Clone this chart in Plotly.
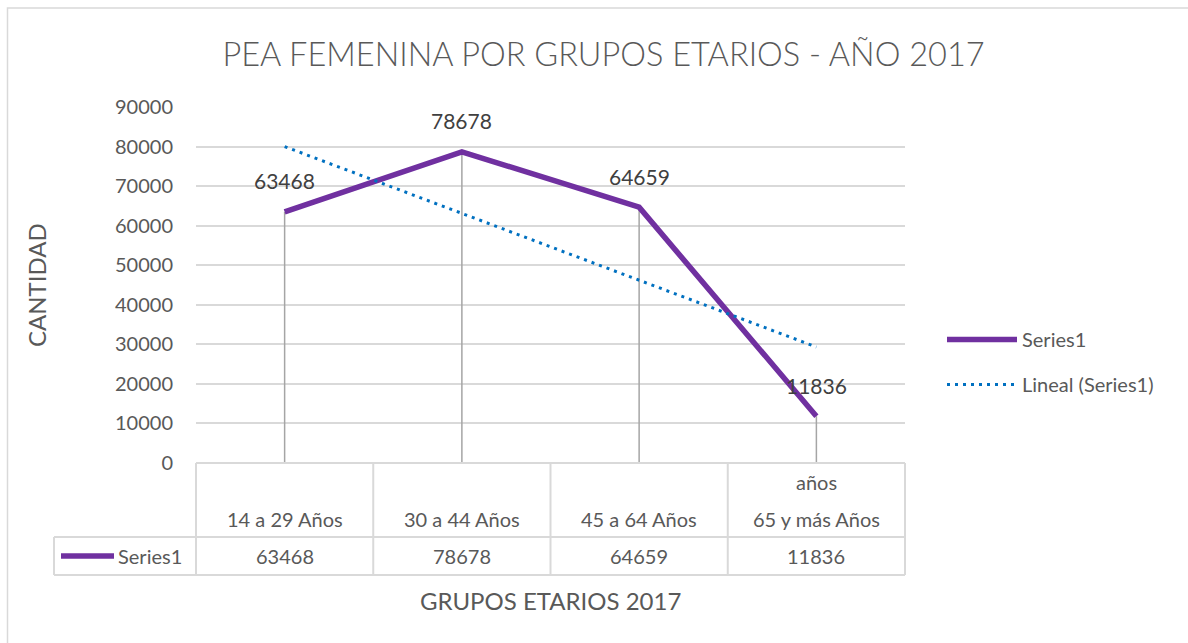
import numpy as np
import plotly.graph_objects as go

# ---------------- data ----------------
categories = ["14 a 29 Años", "30 a 44 Años", "45 a 64 Años", "años<br>65 y más Años"]
values = [63468, 78678, 64659, 11836]
series_name = "Series1"
trend_name = "Lineal (Series1)"
y_ticks = [0, 10000, 20000, 30000, 40000, 50000, 60000, 70000, 80000, 90000]
title_text = "PEA FEMENINA POR GRUPOS ETARIOS - AÑO 2017"
x_title = "GRUPOS ETARIOS 2017"
y_title = "CANTIDAD"

# ---------------- layout geometry ----------------
W, H = 1188, 643
L, R, T, B = 196, 905, 107, 463  # plot area in pixels
PW, PH = R - L, B - T

def px_x(px):
    return (px - L) / PW

def px_y(py):
    return (B - py) / PH

FONT = "Lato, 'Open Sans', sans-serif"
GRID = "#D9D9D9"
TXT = "#595959"
PURPLE = "#7030A0"
BLUE = "#0070C0"

n = len(categories)
xi = list(range(n))

# linear trend (least squares) as Excel "Lineal"
coef = np.polyfit(np.array(xi) + 1, np.array(values, dtype=float), 1)
trend = [coef[0] * (i + 1) + coef[1] for i in xi]

fig = go.Figure()

# drop lines
dx, dy = [], []
for i, v in zip(xi, values):
    dx += [i, i, None]
    dy += [0, v, None]
fig.add_trace(go.Scatter(x=dx, y=dy, mode="lines", line=dict(color="#A5A5A5", width=1.5),
                         showlegend=False, hoverinfo="skip"))

fig.add_trace(go.Scatter(x=xi, y=values, mode="lines", name=series_name,
                         line=dict(color=PURPLE, width=5.5), legendgroup="a"))
fig.add_trace(go.Scatter(x=xi, y=trend, mode="lines", name=trend_name,
                         line=dict(color=BLUE, width=3, dash="3px,5px"), legendgroup="b"))

annotations = []
# data labels
for i, v in zip(xi, values):
    annotations.append(dict(x=i, y=v, xref="x", yref="y", text=str(v), showarrow=False,
                            yshift=31, font=dict(family=FONT, size=21, color="#404040")))

shapes = []
# table grid
line_style = dict(color=GRID, width=2)
row1_bottom = px_y(537)
row2_bottom = px_y(575)
left_edge = px_x(54)
shapes.append(dict(type="line", xref="paper", yref="paper", x0=0, x1=1, y0=0, y1=0, line=line_style))
for yy in (row1_bottom, row2_bottom):
    shapes.append(dict(type="line", xref="paper", yref="paper", x0=left_edge, x1=1, y0=yy, y1=yy, line=line_style))
for i in range(n + 1):
    shapes.append(dict(type="line", xref="paper", yref="paper", x0=i / n, x1=i / n, y0=0, y1=row2_bottom, line=line_style))
shapes.append(dict(type="line", xref="paper", yref="paper", x0=left_edge, x1=left_edge,
                   y0=row1_bottom, y1=row2_bottom, line=line_style))

# category header text and values
for i, (c, v) in enumerate(zip(categories, values)):
    lines = c.split("<br>")
    for k, ln in enumerate(reversed(lines)):
        annotations.append(dict(x=i, xref="x", y=px_y(519 - 37 * k), yref="paper", text=ln, showarrow=False,
                                yanchor="middle", font=dict(family=FONT, size=20, color=TXT)))
    annotations.append(dict(x=i, xref="x", y=px_y(556), yref="paper", text=str(v), showarrow=False,
                            yanchor="middle", font=dict(family=FONT, size=20, color=TXT)))

# legend key inside table
shapes.append(dict(type="line", xref="paper", yref="paper", x0=px_x(61), x1=px_x(114), y0=px_y(556), y1=px_y(556),
                   line=dict(color=PURPLE, width=5.5)))
annotations.append(dict(x=px_x(116), xref="paper", y=px_y(556), yref="paper", text=series_name, showarrow=False,
                        xanchor="left", yanchor="middle", font=dict(family=FONT, size=20, color=TXT)))

# axis titles
annotations.append(dict(x=0.5, xref="paper", y=px_y(600), yref="paper", text=x_title, showarrow=False,
                        yanchor="middle", font=dict(family=FONT, size=24, color=TXT)))
annotations.append(dict(x=px_x(36), xref="paper", y=px_y(285), yref="paper", text=y_title, showarrow=False,
                        textangle=-90, xanchor="center", yanchor="middle", font=dict(family=FONT, size=24, color=TXT)))

# outer chart border
shapes.append(dict(type="rect", xref="paper", yref="paper", x0=px_x(7.5), x1=px_x(1200), y0=px_y(660), y1=px_y(8),
                   line=dict(color=GRID, width=1.5), layer="below"))

fig.update_layout(
    width=W, height=H,
    margin=dict(l=L, r=W - R, t=T, b=H - B),
    paper_bgcolor="white", plot_bgcolor="white",
    title=dict(text=title_text, x=603.5 / W, xref="container", xanchor="center",
               y=1 - 55 / H, yref="container", yanchor="middle",
               font=dict(family=FONT, size=32.5, color=TXT, weight=300)),
    xaxis=dict(range=[-0.5, n - 0.5], showticklabels=False, showgrid=False, zeroline=False,
               showline=False, fixedrange=True),
    yaxis=dict(range=[0, 90000], tickvals=y_ticks, ticktext=[str(t) for t in y_ticks],
               showgrid=True, gridcolor=GRID, gridwidth=1.5, zeroline=False, showline=False,
               ticklabelstandoff=22, tickfont=dict(family=FONT, size=20, color=TXT)),
    legend=dict(x=px_x(942), xanchor="left", y=px_y(362), yanchor="middle",
                font=dict(family=FONT, size=20, color=TXT), itemwidth=70,
                traceorder="grouped", tracegroupgap=16, bgcolor="rgba(0,0,0,0)"),
    shapes=shapes, annotations=annotations,
    showlegend=True,
)

fig.write_html("out.html", config={"displayModeBar": False},
               post_script="document.body.style.margin='0';document.body.style.overflow='hidden';")
